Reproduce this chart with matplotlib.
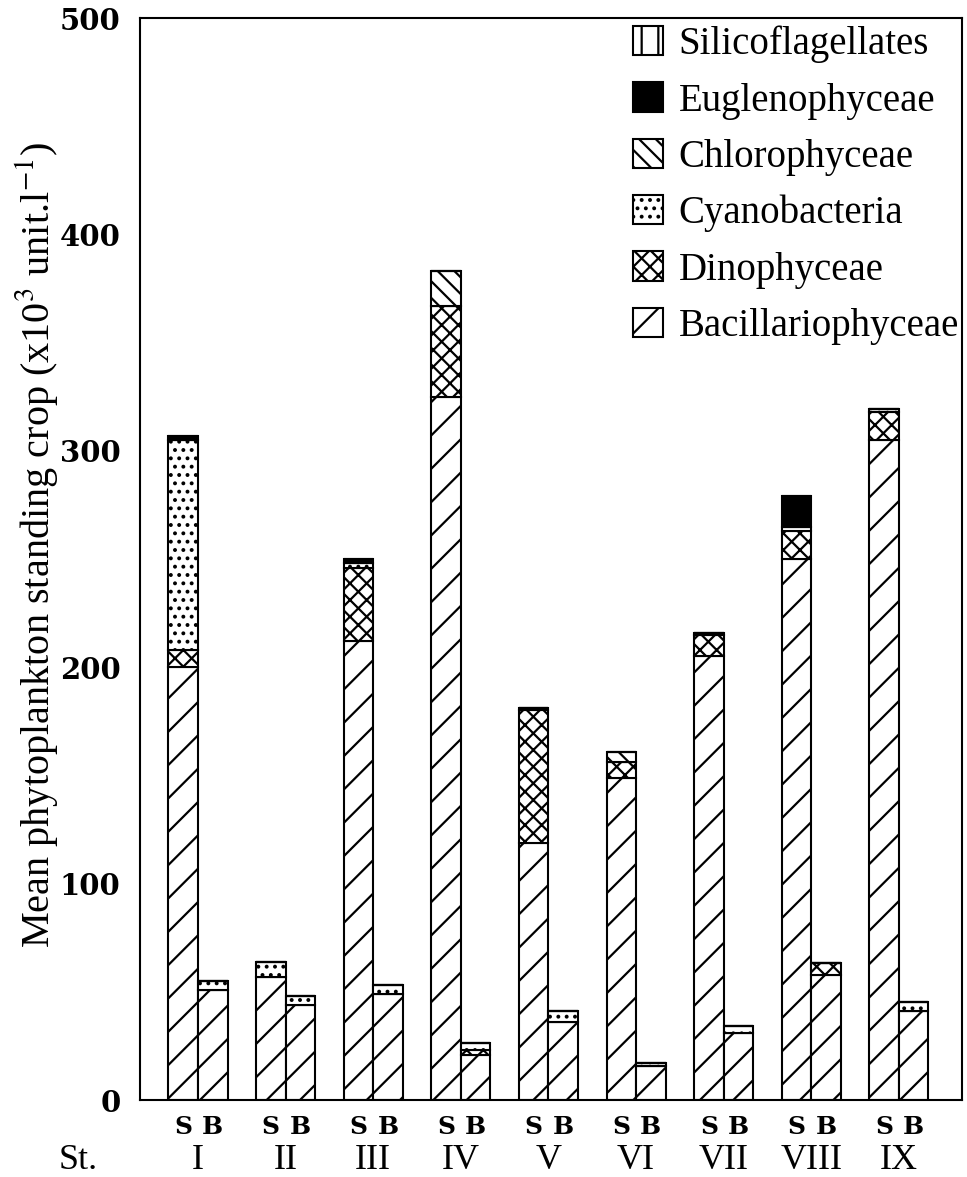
import numpy as np
import matplotlib.pyplot as plt

plt.rcParams['hatch.linewidth'] = 1.6
plt.rcParams['mathtext.fontset'] = 'stix'

# stations and the two bars per station (S = surface, B = bottom)
stations = ['I', 'II', 'III', 'IV', 'V', 'VI', 'VII', 'VIII', 'IX']
groups = ['Bacillariophyceae', 'Dinophyceae', 'Cyanobacteria',
          'Chlorophyceae', 'Euglenophyceae', 'Silicoflagellates']

# standing crop (x10^3 unit/l)
bacil_s = [200, 57, 212, 325, 119, 149, 205, 250, 305]
dino_s = [8, 0, 34, 42, 61, 7, 10, 13, 13]
cyano_s = [97, 7, 2, 0, 1, 0, 1, 2, 1.5]
chloro_s = [0, 0, 0, 16, 0, 5, 0, 0, 0]
eugl_s = [2, 0, 2, 0, 0, 0, 0, 14, 0]
silico_s = [0, 0, 0, 0, 0, 0, 0, 0, 0]

bacil_b = [51, 44, 49, 21, 36, 15.5, 31, 58, 41]
dino_b = [0, 0, 0, 2, 0, 0, 0, 5.5, 0]
cyano_b = [4, 4, 4, 3.5, 5, 1.5, 3, 0, 4.5]
chloro_b = [0, 0, 0, 0, 0, 0, 0, 0, 0]
eugl_b = [0, 0, 0, 0, 0, 0, 0, 0, 0]
silico_b = [0, 0, 0, 0, 0, 0, 0, 0, 0]

surface = [bacil_s, dino_s, cyano_s, chloro_s, eugl_s, silico_s]
bottom = [bacil_b, dino_b, cyano_b, chloro_b, eugl_b, silico_b]

hatches = ['/', 'xx', '..', '\\\\', '', '|']
faces = ['white', 'white', 'white', 'white', 'black', 'white']

fig = plt.figure(figsize=(9.67, 11.77), dpi=100)
ax = fig.add_axes([0.1448, 0.0654, 0.8500, 0.9193])

x = np.arange(len(stations))
w = 0.337

handles = []
for pos, data in [(x - w / 2, surface), (x + w / 2, bottom)]:
    base = np.zeros(len(stations))
    hs = []
    for vals, h, fc in zip(data, hatches, faces):
        vals = np.array(vals, dtype=float)
        bars = ax.bar(pos, vals, w, bottom=base, color=fc, edgecolor='black',
                      linewidth=1.5, hatch=h)
        hs.append(bars)
        base += vals
    if not handles:
        handles = hs

ax.set_xlim(-0.662, 8.72)
ax.set_ylim(0, 500)
ax.set_yticks(range(0, 501, 100))
ax.set_yticklabels([str(v) for v in range(0, 501, 100)],
                   fontfamily='DejaVu Serif', fontweight='bold', fontsize=21)
ax.tick_params(axis='y', length=0, pad=14)

# S / B under each bar
ax.set_xticks(np.concatenate([x - w / 2, x + w / 2]))
ax.set_xticklabels(['S'] * len(stations) + ['B'] * len(stations),
                   fontfamily='DejaVu Serif', fontweight='bold', fontsize=18)
ax.tick_params(axis='x', length=0, pad=11)

trans = ax.get_xaxis_transform()
for xi, s in zip(x, stations):
    ax.text(xi, -0.056, s, transform=trans, ha='center', va='center',
            fontfamily='Liberation Serif', fontsize=26)
ax.text(-1.37, -0.056, 'St.', transform=trans, ha='center', va='center',
        fontfamily='Liberation Serif', fontsize=26, clip_on=False)

ax.set_ylabel(r'Mean phytoplankton standing crop (x10$^3$ unit.l$^{-1}$)',
              fontfamily='Liberation Serif', fontsize=29)
ax.yaxis.set_label_coords(-0.097, 0.513)

for sp in ax.spines.values():
    sp.set_linewidth(1.5)

ax.legend(handles[::-1], groups[::-1], loc='upper left',
          bbox_to_anchor=(0.590, 1.0), frameon=False,
          prop={'family': 'Liberation Serif', 'size': 28},
          handlelength=0.78, handleheight=0.78, handletextpad=0.4,
          labelspacing=0.49, borderpad=0.2, borderaxespad=0.0)

fig.savefig('out.png', dpi=100)
